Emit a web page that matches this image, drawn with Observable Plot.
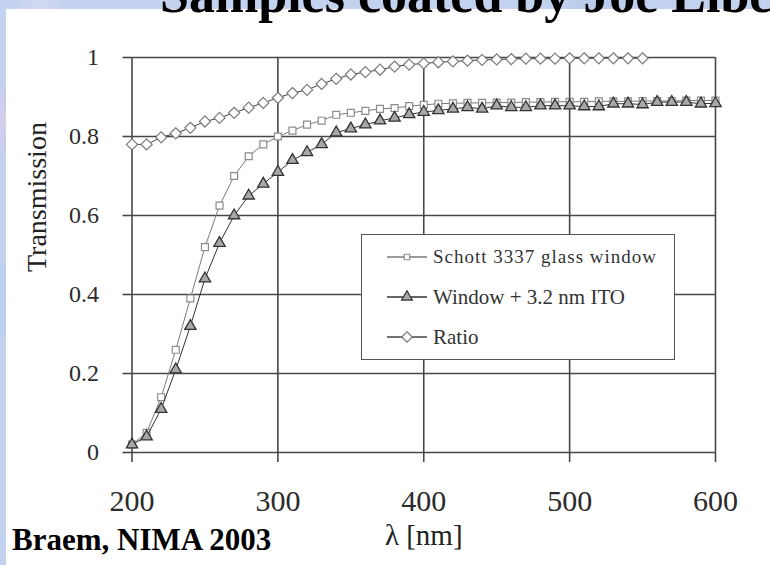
<!DOCTYPE html>
<html>
<head>
<meta charset="utf-8">
<script src="https://cdn.jsdelivr.net/npm/d3@7"></script>
<script src="https://cdn.jsdelivr.net/npm/@observablehq/plot@0.6"></script>
<style>
html,body{margin:0;padding:0}
body{width:770px;height:565px;overflow:hidden;position:relative;font-family:"Liberation Serif",serif;
 background:#c3d2ee;
 background-image:radial-gradient(circle at 3px 120px,#d6ccec 0,transparent 40px),radial-gradient(circle at 2px 300px,#b9cff0 0,transparent 50px),radial-gradient(circle at 40px 4px,#d2d8f2 0,transparent 30px),radial-gradient(circle at 600px 5px,#b8cbec 0,transparent 60px);}
#panel{position:absolute;left:6px;top:9px;width:764px;height:556px;background:#fff}
#chart{position:absolute;left:0;top:0}
#title{position:absolute;left:160px;top:-31.5px;font-size:52px;line-height:52px;font-weight:bold;white-space:nowrap;color:#000;z-index:5}
#source{position:absolute;left:12px;top:524px;font-size:31px;line-height:31px;font-weight:bold;white-space:nowrap;color:#000;z-index:5}
#legend{position:absolute;left:361px;top:234px;width:312px;height:124px;border:1.5px solid #555;background:#fff;z-index:4}
#legend svg{position:absolute;left:24px}
#legend span{position:absolute;left:71px;white-space:nowrap;color:#333;line-height:24px}
</style>
</head>
<body>
<div id="panel"></div>
<div id="chart"></div>
<div id="legend"></div>
<div id="title">Samples coated by Joe Libera</div>
<div id="source">Braem, NIMA 2003</div>
<script>
// Data
const wavelength = [200,210,220,230,240,250,260,270,280,290,300,310,320,330,340,350,360,370,380,390,400,410,420,430,440,450,460,470,480,490,500,510,520,530,540,550,560,570,580,590,600];
const schott = [0.02,0.05,0.14,0.26,0.39,0.52,0.625,0.70,0.75,0.78,0.80,0.815,0.83,0.84,0.855,0.86,0.865,0.87,0.872,0.877,0.88,0.883,0.884,0.885,0.885,0.886,0.886,0.887,0.887,0.888,0.888,0.888,0.889,0.889,0.889,0.89,0.89,0.89,0.891,0.891,0.891];
const withITO = [0.02,0.04,0.11,0.21,0.32,0.44,0.53,0.60,0.65,0.68,0.71,0.74,0.76,0.78,0.81,0.82,0.83,0.84,0.847,0.856,0.862,0.866,0.87,0.874,0.87,0.878,0.874,0.874,0.878,0.878,0.878,0.876,0.876,0.883,0.883,0.881,0.887,0.887,0.887,0.883,0.884];
const ratioWavelength = [200,210,220,230,240,250,260,270,280,290,300,310,320,330,340,350,360,370,380,390,400,410,420,430,440,450,460,470,480,490,500,510,520,530,540,550];
const ratio = [0.78,0.78,0.798,0.808,0.822,0.838,0.847,0.86,0.873,0.885,0.898,0.91,0.918,0.933,0.946,0.957,0.963,0.969,0.977,0.982,0.985,0.988,0.99,0.992,0.994,0.995,0.996,0.997,0.997,0.997,0.998,0.998,0.998,0.998,0.998,0.998];
const xTicks = [200,300,400,500,600];
const yTicks = [0,0.2,0.4,0.6,0.8,1];
const seriesNames = ["Schott 3337 glass window","Window + 3.2 nm ITO","Ratio"];
const xLabel = "λ [nm]";
const yLabel = "Transmission";

const sq = wavelength.map((w,i)=>({w, v: schott[i]}));
const tr = wavelength.map((w,i)=>({w, v: withITO[i]}));
const di = ratioWavelength.map((w,i)=>({w, v: ratio[i]}));

const gridColor = "#474747";
const chart = Plot.plot({
  width: 770, height: 565,
  marginLeft: 131.5, marginRight: 55, marginTop: 57, marginBottom: 113,
  style: {background: "transparent", fontFamily: "'Liberation Serif', serif", overflow: "visible"},
  x: {domain: [200, 600]},
  y: {domain: [0, 1]},
  marks: [
    Plot.ruleX(xTicks, {stroke: gridColor, strokeWidth: 1.6}),
    Plot.ruleY(yTicks, {stroke: gridColor, strokeWidth: 1.6}),
    Plot.axisY({ticks: yTicks, tickSize: 9, tickPadding: 24, tickFormat: d => String(d), fontSize: 24, stroke: gridColor, strokeWidth: 1.6, fill: "#2b2b2b", label: null}),
    Plot.axisX({ticks: xTicks, tickSize: 10, tickPadding: 27, tickFormat: d => String(d), fontSize: 30, stroke: gridColor, strokeWidth: 1.6, fill: "#2b2b2b", label: null}),
    Plot.line(sq, {x: "w", y: "v", stroke: "#7a7a7a", strokeWidth: 1}),
    Plot.dot(sq, {x: "w", y: "v", symbol: "square", r: 3.9, fill: "white", stroke: "#8c8c8c", strokeWidth: 1.2}),
    Plot.line(tr, {x: "w", y: "v", stroke: "#333", strokeWidth: 1}),
    Plot.dot(tr, {x: "w", y: "v", symbol: "triangle", r: 4.2, fill: "#a8a8a8", stroke: "#333", strokeWidth: 1.3}),
    Plot.line(di, {x: "w", y: "v", stroke: "#444", strokeWidth: 1}),
    Plot.dot(di, {x: "w", y: "v", symbol: "diamond2", r: 5, fill: "white", stroke: "#7a7a7a", strokeWidth: 1.2}),
    Plot.text([yLabel], {frameAnchor: "left", rotate: -90, dx: -94.5, dy: 17, fontSize: 28, fill: "#222", lineAnchor: "middle"}),
    Plot.text([xLabel], {frameAnchor: "bottom", dy: 92, fontSize: 29, fill: "#222", lineAnchor: "bottom"})
  ]
});
document.getElementById("chart").appendChild(chart);

// Legend (line + marker samples)
const legend = document.getElementById("legend");
const rows = [
  {name: seriesNames[0], sym: d3.symbolSquare, size: 30, fill: "white", stroke: "#8c8c8c", line: "#7a7a7a", font: 19, ls: 1, cy: 22.4},
  {name: seriesNames[1], sym: d3.symbolTriangle, size: 50, fill: "#a8a8a8", stroke: "#333", line: "#333", font: 21, ls: 0, cy: 62.4},
  {name: seriesNames[2], sym: d3.symbolDiamond2, size: 70, fill: "white", stroke: "#7a7a7a", line: "#444", font: 21, ls: 0, cy: 101.7}
];
for (const r of rows) {
  const svg = d3.create("svg").attr("width", 42).attr("height", 16).style("top", (r.cy - 8) + "px");
  svg.append("line").attr("x1", 1).attr("x2", 41).attr("y1", 8).attr("y2", 8).attr("stroke", r.line).attr("stroke-width", 1.3);
  svg.append("path").attr("d", d3.symbol(r.sym, r.size)()).attr("transform", "translate(21,8)")
     .attr("fill", r.fill).attr("stroke", r.stroke).attr("stroke-width", 1.2);
  legend.appendChild(svg.node());
  const span = document.createElement("span");
  span.textContent = r.name;
  span.style.fontSize = r.font + "px";
  span.style.letterSpacing = r.ls + "px";
  span.style.top = (r.cy - 12) + "px";
  legend.appendChild(span);
}
</script>
</body>
</html>
